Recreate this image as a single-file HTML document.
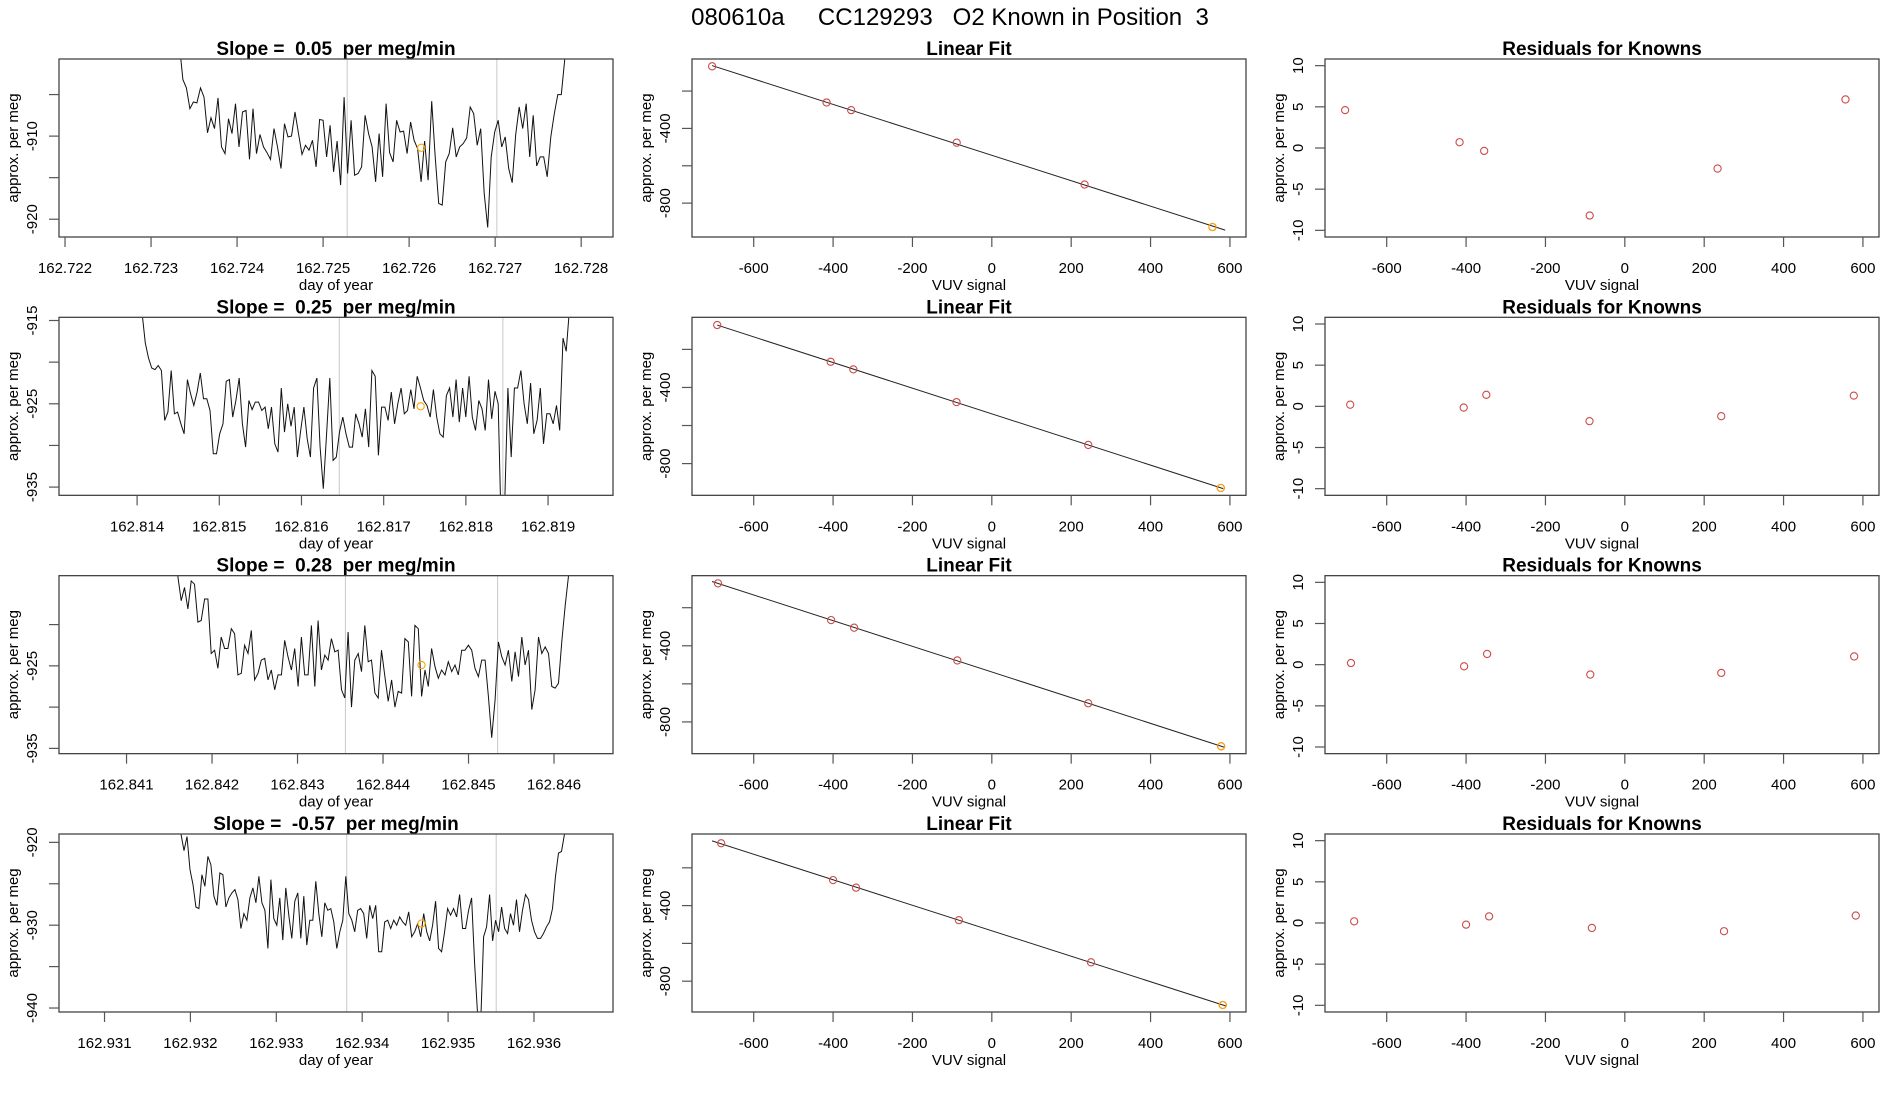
<!DOCTYPE html>
<html><head><meta charset="utf-8"><title>080610a CC129293</title>
<style>
html,body{margin:0;padding:0;background:#fff;}
svg{display:block;font-family:"Liberation Sans",Arial,sans-serif;}
.tick{font-size:15px;fill:#000;}
.ttl{font-size:19px;font-weight:bold;fill:#000;white-space:pre;}
</style></head>
<body>
<svg id="fig" width="1900" height="1100" viewBox="0 0 1900 1100" xmlns="http://www.w3.org/2000/svg">
<rect width="1900" height="1100" fill="#fff"/>
<text x="950" y="25" text-anchor="middle" font-size="24" fill="#000">080610a &#160;&#160;&#160;&#160;CC129293 &#160;&#160;O2 Known in Position &#160;3</text>
</svg>
<script>
// ---------- data ----------
const slopeLabels = ["0.05", "0.25", "0.28", "-0.57"];
const tsStart = [162.72333, 162.81406, 162.84160, 162.93189];
const tsEnd = [162.72785, 162.81926, 162.84617, 162.93639];
const ts1 = [-899,-903.2,-904.2,-906.7,-905.9,-906,-904.2,-905.3,-909.6,-907.8,-909.1,-905.4,-911.3,-912.1,-907.9,-909.7,-906.1,-911.3,-907.1,-906.9,-912.8,-906.7,-912.1,-909.8,-911.3,-912,-912.8,-909.1,-911.3,-913.9,-908.5,-910.1,-910,-907.1,-909.7,-912.2,-911.1,-911.7,-910.5,-913.7,-908,-908.1,-912.5,-908.7,-914.3,-910.6,-915.9,-905.3,-914.5,-908.1,-914.7,-914.5,-913.7,-907.5,-909.7,-911.3,-915.5,-909.7,-914.9,-906.1,-912,-913.1,-908.1,-909.5,-909.4,-912.1,-908.3,-910.5,-911.5,-915.5,-910.6,-915.3,-905.8,-912.5,-918.1,-918.3,-913.1,-912.1,-909,-912.5,-911.3,-910.9,-910.2,-906.5,-907.3,-911.1,-909.1,-916.9,-921,-912.5,-909.5,-908.1,-911.3,-910.1,-913.9,-915.6,-909.8,-906.5,-909.1,-906.1,-912.5,-907.5,-913.6,-912.5,-912.5,-914.9,-910.1,-907.3,-905,-905,-900.7,-899];
const ts2 = [-914,-917.7,-919.5,-920.7,-920.9,-920.4,-921,-927,-926,-921,-926.2,-926,-927.4,-928.6,-922.1,-923.8,-925.2,-923.6,-921.3,-924.4,-924.4,-925.8,-931,-931,-928.6,-927.4,-922.3,-922.1,-926.6,-924.6,-921.9,-927.4,-930.2,-924.6,-925.7,-924.8,-924.8,-925.8,-925.4,-928,-925.4,-929.8,-930.8,-923.1,-928.4,-925,-927.7,-925.4,-931.4,-928.2,-925.4,-929.2,-931.4,-923.1,-921.9,-930.2,-935.2,-928.6,-921.9,-931.8,-931.4,-928.4,-926.6,-928.6,-930.2,-930.2,-926.2,-927.4,-929,-925.6,-930.2,-921,-921.7,-931.2,-925.4,-925.4,-927,-923.6,-927.4,-925,-923.1,-926.2,-925.8,-923.3,-925.6,-921.7,-923.1,-924.6,-925.2,-926.6,-923.3,-926.6,-928.6,-929,-924,-923.1,-926.6,-922.1,-927.2,-923.1,-926.6,-921.7,-926.6,-928.2,-924.6,-925.6,-928.2,-922.1,-926.8,-923.5,-925,-941,-937,-923.1,-931.4,-923.1,-923.1,-921,-925,-927.4,-922.5,-928.6,-927,-923.1,-929.8,-926.2,-926.2,-927.4,-925.2,-928.2,-917.1,-918.7,-913.7];
const ts3 = [-914.1,-917.1,-915.5,-918.1,-914.7,-915.1,-919.7,-919.5,-916.9,-916.9,-923.5,-923.1,-925.3,-921.5,-922.9,-922.9,-920.5,-921.1,-926.1,-925.9,-922.5,-923.5,-920.7,-926.7,-925.9,-924.3,-924.1,-926.7,-925.5,-927.9,-926.1,-926.1,-921.9,-923.9,-925.5,-922.9,-927.5,-921.5,-926.1,-926.1,-920.1,-927.5,-919.5,-925.5,-923.7,-924.3,-921.7,-923.3,-923.1,-927.9,-928.9,-920.9,-930,-924.3,-923.5,-925.7,-920.1,-924.5,-924.3,-928.3,-928.9,-923.1,-926.3,-929.3,-926.7,-930,-928.1,-928.3,-921.7,-922.1,-928.7,-920.1,-920.5,-928.7,-925.5,-927.5,-922.9,-925.1,-926.5,-925.5,-926.1,-924.5,-925.7,-924.9,-926.1,-923.1,-923.1,-922.5,-923.1,-925.3,-926.3,-924.3,-924.3,-928.7,-933.7,-929.1,-922.1,-923.9,-924.9,-923.1,-926.9,-923.3,-926.3,-921.5,-924.9,-923.1,-930.3,-927.9,-921.5,-923.5,-922.7,-923.5,-927.5,-927.7,-927.1,-921.9,-917.7,-914.1];
const ts4 = [-919,-921,-919.3,-923.3,-925.1,-927.8,-928,-923.9,-925.3,-921.7,-922.7,-926.5,-927.6,-923.7,-923.9,-927.8,-926.7,-926.1,-925.7,-926.9,-930.4,-928.6,-929.4,-926.7,-925.5,-927.3,-924.1,-927.3,-928.2,-932.8,-924.5,-929.2,-930,-926.7,-931.8,-925.5,-928.8,-931.6,-927.1,-926.1,-931.6,-926.5,-932.4,-929.4,-929.4,-924.7,-928.6,-931.4,-927.3,-928.2,-928,-929.6,-932.8,-930.8,-929.4,-924.1,-928.6,-929.4,-930.8,-928.2,-928,-928.6,-931.6,-927.6,-929.2,-927.6,-933.2,-933.2,-929.6,-929.4,-930.4,-929.4,-930,-929,-929.6,-930,-928.4,-931.4,-930.8,-929.8,-931.4,-928.6,-930.8,-931.9,-930,-927.1,-932.8,-933.2,-930.8,-928,-928.8,-928,-929,-926.3,-930.4,-930.4,-928.2,-926.7,-934.6,-940.8,-942.2,-931.4,-930.2,-926.3,-931.9,-929.4,-930.8,-927.8,-930.4,-931,-928.6,-930,-926.9,-930.8,-928.2,-926.3,-926.9,-929.4,-930.8,-931.6,-931.6,-931,-930.2,-929.6,-928,-924.1,-921.3,-921.1,-919,-917];
const tsSeries = [ts1, ts2, ts3, ts4];
const markerT = [162.72614, 162.81745, 162.84445, 162.93469];
const markerV = [-911.4, -925.3, -924.9, -929.8];
const vlineA = [162.72528, 162.81646, 162.84356, 162.93382];
const vlineB = [162.72702, 162.81845, 162.84534, 162.93556];
const tsXTicks = [
  ["162.722","162.723","162.724","162.725","162.726","162.727","162.728"],
  ["162.814","162.815","162.816","162.817","162.818","162.819"],
  ["162.841","162.842","162.843","162.844","162.845","162.846"],
  ["162.931","162.932","162.933","162.934","162.935","162.936"]];
const tsYTicks = [[-905,-910,-915,-920],[-915,-920,-925,-930,-935],[-920,-925,-930,-935],[-920,-925,-930,-935,-940]];
const tsYLabels = [["","-910","","-920"],["-915","","-925","","-935"],["","-925","","-935"],["-920","","-930","","-940"]];
// linear fit data
const vuv1 = [-704.8,-416.4,-354.4,-88.5,233.7,556];
const vuv2 = [-692,-406,-349,-89,243,577];
const vuv3 = [-690,-405,-347,-87,243,578];
const vuv4 = [-682,-400,-342,-83,250,582];
const known1 = [-67.4,-261.2,-302.1,-476.3,-700.4,-928];
const known2 = [-72,-265,-305,-477,-702,-928];
const known3 = [-72,-265,-305,-477,-702,-928];
const known4 = [-70,-265,-305,-477,-700,-926];
const vuvSeries = [vuv1, vuv2, vuv3, vuv4];
const knownSeries = [known1, known2, known3, known4];
const fitStart = [-705, -692, -705, -705];
const fitEnd = [588, 583, 585, 590];
const resid1 = [4.6,0.7,-0.35,-8.2,-2.5,5.9];
const resid2 = [0.2,-0.15,1.4,-1.8,-1.2,1.3];
const resid3 = [0.2,-0.2,1.3,-1.2,-1.0,1.0];
const resid4 = [0.2,-0.2,0.8,-0.6,-1.0,0.9];
const residSeries = [resid1, resid2, resid3, resid4];
const vuvTicks = [-600,-400,-200,0,200,400,600];
const fitYTicks = [-200,-400,-600,-800];
const fitYLabels = ["","-400","","-800"];
const resTicks = [10,5,0,-5,-10];

// ---------- axis config ----------
const tsXDom = [[162.72193,162.72837],[162.81305,162.81979],[162.84021,162.84669],[162.93047,162.93692]];
const tsYDom = [[-922.14,-900.72],[-935.99,-914.62],[-935.64,-914.07],[-940.48,-918.99]];
const fitXDom = [-755.5, 640.5];
const fitYDom = [[-981.4,-28.3],[-966.7,-31.6],[-966.7,-31.6],[-963,-21]];
const resYDom = [-10.81, 10.81];

const NS = "http://www.w3.org/2000/svg";
const svg = document.getElementById('fig');
const colX = [59, 692, 1325], PW = 554, PH = 178;
function rowTop(r){ return 59 + r*258.33; }
function el(tag, attrs, parent){ const e=document.createElementNS(NS,tag); for(const k in attrs) e.setAttribute(k, attrs[k]); (parent||svg).appendChild(e); return e; }
function txt(parent, x, y, s, cls, anchor, rot){
  const t = el('text', {x:x, y:y, class:cls, 'text-anchor':anchor||'middle'}, parent);
  if(rot) t.setAttribute('transform', `rotate(-90 ${x} ${y})`);
  t.textContent = s; return t;
}

function panel(r, c, xdom, ydom, title, xlab, name){
  const L = colX[c], T = rowTop(r);
  const g = el('g', {}, svg);
  
  
  const sx = v => L + (v - xdom[0])/(xdom[1]-xdom[0])*PW;
  const sy = v => T + PH - (v - ydom[0])/(ydom[1]-ydom[0])*PH;
  const cid = 'clip'+r+'_'+c;
  const cp = el('clipPath', {id:cid}, g);
  el('rect', {x:L, y:T, width:PW, height:PH}, cp);
  const plot = el('g', {'clip-path':`url(#${cid})`}, g);
  const t = txt(g, L+PW/2, T-4, title, 'ttl');
  
  
  const xl = txt(g, L+PW/2, T+PH+53, xlab, 'tick');
  
  
  const yl = txt(g, L-41, T+PH/2, 'approx. per meg', 'tick', 'middle', true);
  
  
  return {g, plot, sx, sy, L, T};
}
function frame(P){
  const b = el('rect', {x:P.L, y:P.T, width:PW, height:PH, fill:'none', stroke:'#444', 'stroke-width':1.3}, P.g);
  
  
}
function xAxis(P, vals, labels){
  const ax = el('g', {}, P.g);
  
  
  vals.forEach((v,i)=>{
    const x = P.sx(v);
    el('line', {x1:x, x2:x, y1:P.T+PH, y2:P.T+PH+10, stroke:'#555', 'stroke-width':1.2}, ax);
    txt(ax, x, P.T+PH+36, labels[i], 'tick');
  });
}
function yAxis(P, vals, labels){
  const ax = el('g', {}, P.g);
  
  
  vals.forEach((v,i)=>{
    const y = P.sy(v);
    el('line', {x1:P.L-10, x2:P.L, y1:y, y2:y, stroke:'#555', 'stroke-width':1.2}, ax);
    if(labels[i]) txt(ax, P.L-22, y, labels[i], 'tick', 'middle', true);
  });
}
function circ(parent, x, y, color, name){
  const c = el('circle', {cx:x, cy:y, r:3.6, fill:'none', stroke:color, 'stroke-width':1.1}, parent);
  
  
}

for(let r=0;r<4;r++){
  // ---- time series panel ----
  const P = panel(r, 0, tsXDom[r], tsYDom[r], `Slope =  ${slopeLabels[r]}  per meg/min`, 'day of year', 'timeseries-panel-'+(r+1));
  [vlineA[r], vlineB[r]].forEach(v=>{
    const l = el('line', {x1:P.sx(v), x2:P.sx(v), y1:P.T, y2:P.T+PH, stroke:'#c8c8c8', 'stroke-width':1}, P.plot);
    
    
  });
  const s = tsSeries[r], n = s.length;
  const pts = s.map((v,i)=>{ const t = tsStart[r] + (tsEnd[r]-tsStart[r])*i/(n-1); return P.sx(t).toFixed(1)+','+P.sy(v).toFixed(1); });
  const pl = el('polyline', {points:pts.join(' '), fill:'none', stroke:'#111', 'stroke-width':1}, P.plot);
  
  
  circ(P.plot, P.sx(markerT[r]), P.sy(markerV[r]), '#ffa500', 'known-marker');
  frame(P);
  const xv = tsXTicks[r].map(Number);
  xAxis(P, xv, tsXTicks[r]);
  yAxis(P, tsYTicks[r], tsYLabels[r]);

  // ---- linear fit panel ----
  const F = panel(r, 1, fitXDom, fitYDom[r], 'Linear Fit', 'VUV signal', 'linear-fit-panel-'+(r+1));
  const xs = vuvSeries[r], ys = knownSeries[r];
  const mx = xs.reduce((a,b)=>a+b,0)/xs.length, my = ys.reduce((a,b)=>a+b,0)/ys.length;
  let sxy=0, sxx=0; xs.forEach((x,i)=>{ sxy+=(x-mx)*(ys[i]-my); sxx+=(x-mx)*(x-mx); });
  const b = sxy/sxx, a = my - b*mx;
  const fl = el('line', {x1:F.sx(fitStart[r]), y1:F.sy(a+b*fitStart[r]), x2:F.sx(fitEnd[r]), y2:F.sy(a+b*fitEnd[r]), stroke:'#222', 'stroke-width':1}, F.plot);
  
  
  xs.forEach((x,i)=> circ(F.plot, F.sx(x), F.sy(ys[i]), '#cd4a4a', 'known-point'));
  circ(F.plot, F.sx(xs[xs.length-1]), F.sy(ys[ys.length-1]), '#ffa500', 'current-known-point');
  frame(F);
  xAxis(F, vuvTicks, vuvTicks.map(String));
  yAxis(F, fitYTicks, fitYLabels);

  // ---- residuals panel ----
  const R = panel(r, 2, fitXDom, resYDom, 'Residuals for Knowns', 'VUV signal', 'residuals-panel-'+(r+1));
  residSeries[r].forEach((v,i)=> circ(R.plot, R.sx(xs[i]), R.sy(v), '#cd4a4a', 'residual-point'));
  frame(R);
  xAxis(R, vuvTicks, vuvTicks.map(String));
  yAxis(R, resTicks, resTicks.map(String));
}
</script>
</body></html>
